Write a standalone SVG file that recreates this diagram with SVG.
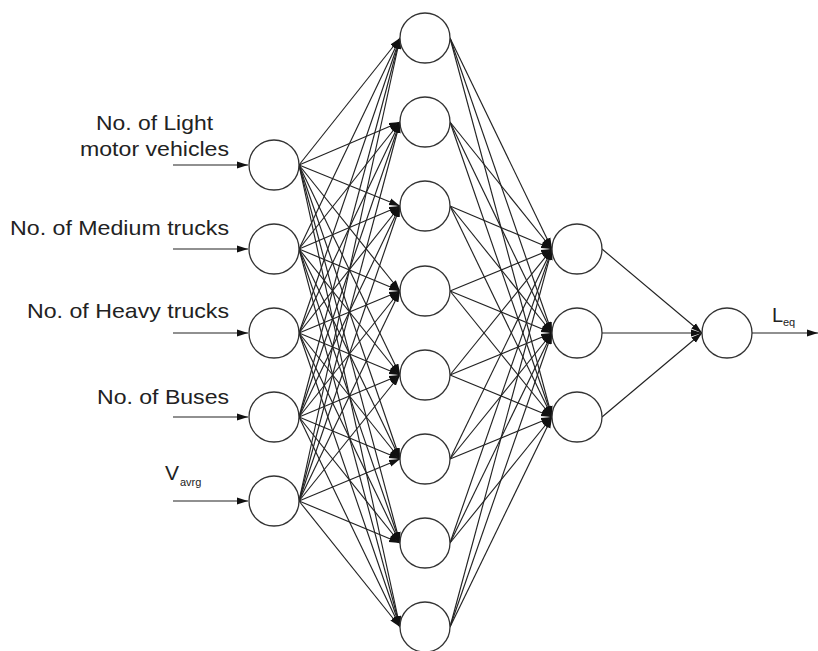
<svg xmlns="http://www.w3.org/2000/svg" width="818" height="651" viewBox="0 0 818 651">
<style>
.n{fill:#fff;stroke:#333;stroke-width:1.3}
.c line{stroke:#222;stroke-width:1.15;marker-end:url(#ah)}
.t{font-family:"Liberation Sans",Arial,sans-serif;fill:#222}
.lbl{font-size:21px;text-anchor:end}
</style>
<defs>
<marker id="ah" markerUnits="userSpaceOnUse" markerWidth="11" markerHeight="8" refX="11" refY="4" orient="auto"><path d="M0,0.5 L11,4 L0,7.5 z" fill="#111"/></marker>
</defs>
<g id="connectors" class="c">
<line x1="173" y1="165" x2="248" y2="165"/>
<line x1="173" y1="249" x2="248" y2="249"/>
<line x1="173" y1="333" x2="248" y2="333"/>
<line x1="173" y1="417" x2="248" y2="417"/>
<line x1="173" y1="501" x2="248" y2="501"/>
<line x1="299" y1="165" x2="400" y2="38"/><line x1="299" y1="165" x2="400" y2="122"/><line x1="299" y1="165" x2="400" y2="206"/><line x1="299" y1="165" x2="400" y2="291"/><line x1="299" y1="165" x2="400" y2="375"/><line x1="299" y1="165" x2="400" y2="459"/><line x1="299" y1="165" x2="400" y2="543"/><line x1="299" y1="165" x2="400" y2="627"/>
<line x1="299" y1="249" x2="400" y2="38"/><line x1="299" y1="249" x2="400" y2="122"/><line x1="299" y1="249" x2="400" y2="206"/><line x1="299" y1="249" x2="400" y2="291"/><line x1="299" y1="249" x2="400" y2="375"/><line x1="299" y1="249" x2="400" y2="459"/><line x1="299" y1="249" x2="400" y2="543"/><line x1="299" y1="249" x2="400" y2="627"/>
<line x1="299" y1="333" x2="400" y2="38"/><line x1="299" y1="333" x2="400" y2="122"/><line x1="299" y1="333" x2="400" y2="206"/><line x1="299" y1="333" x2="400" y2="291"/><line x1="299" y1="333" x2="400" y2="375"/><line x1="299" y1="333" x2="400" y2="459"/><line x1="299" y1="333" x2="400" y2="543"/><line x1="299" y1="333" x2="400" y2="627"/>
<line x1="299" y1="417" x2="400" y2="38"/><line x1="299" y1="417" x2="400" y2="122"/><line x1="299" y1="417" x2="400" y2="206"/><line x1="299" y1="417" x2="400" y2="291"/><line x1="299" y1="417" x2="400" y2="375"/><line x1="299" y1="417" x2="400" y2="459"/><line x1="299" y1="417" x2="400" y2="543"/><line x1="299" y1="417" x2="400" y2="627"/>
<line x1="299" y1="501" x2="400" y2="38"/><line x1="299" y1="501" x2="400" y2="122"/><line x1="299" y1="501" x2="400" y2="206"/><line x1="299" y1="501" x2="400" y2="291"/><line x1="299" y1="501" x2="400" y2="375"/><line x1="299" y1="501" x2="400" y2="459"/><line x1="299" y1="501" x2="400" y2="543"/><line x1="299" y1="501" x2="400" y2="627"/>
<line x1="450" y1="38" x2="552" y2="249"/><line x1="450" y1="38" x2="552" y2="333"/><line x1="450" y1="38" x2="552" y2="417"/>
<line x1="450" y1="122" x2="552" y2="249"/><line x1="450" y1="122" x2="552" y2="333"/><line x1="450" y1="122" x2="552" y2="417"/>
<line x1="450" y1="206" x2="552" y2="249"/><line x1="450" y1="206" x2="552" y2="333"/><line x1="450" y1="206" x2="552" y2="417"/>
<line x1="450" y1="291" x2="552" y2="249"/><line x1="450" y1="291" x2="552" y2="333"/><line x1="450" y1="291" x2="552" y2="417"/>
<line x1="450" y1="375" x2="552" y2="249"/><line x1="450" y1="375" x2="552" y2="333"/><line x1="450" y1="375" x2="552" y2="417"/>
<line x1="450" y1="459" x2="552" y2="249"/><line x1="450" y1="459" x2="552" y2="333"/><line x1="450" y1="459" x2="552" y2="417"/>
<line x1="450" y1="543" x2="552" y2="249"/><line x1="450" y1="543" x2="552" y2="333"/><line x1="450" y1="543" x2="552" y2="417"/>
<line x1="450" y1="627" x2="552" y2="249"/><line x1="450" y1="627" x2="552" y2="333"/><line x1="450" y1="627" x2="552" y2="417"/>
<line x1="602" y1="249" x2="702" y2="333"/>
<line x1="602" y1="333" x2="702" y2="333"/>
<line x1="602" y1="417" x2="702" y2="333"/>
<line x1="752" y1="333" x2="818" y2="333"/>
</g>
<g id="in1"><circle class="n" cx="274" cy="165" r="25"/><text class="t lbl" x="213" y="130" textLength="117" lengthAdjust="spacingAndGlyphs">No. of Light</text><text class="t lbl" x="229" y="156" textLength="149" lengthAdjust="spacingAndGlyphs">motor vehicles</text></g>
<g id="in2"><circle class="n" cx="274" cy="249" r="25"/><text class="t lbl" x="229" y="235" textLength="219" lengthAdjust="spacingAndGlyphs">No. of Medium trucks</text></g>
<g id="in3"><circle class="n" cx="274" cy="333" r="25"/><text class="t lbl" x="229" y="318" textLength="202" lengthAdjust="spacingAndGlyphs">No. of Heavy trucks</text></g>
<g id="in4"><circle class="n" cx="274" cy="417" r="25"/><text class="t lbl" x="229" y="404" textLength="132" lengthAdjust="spacingAndGlyphs">No. of Buses</text></g>
<g id="in5"><circle class="n" cx="274" cy="501" r="25"/><text class="t" x="165" y="480" font-size="21">V</text><text class="t" x="180" y="486" font-size="11">avrg</text></g>
<g id="h1"><circle class="n" cx="425" cy="38" r="25"/></g>
<g id="h2"><circle class="n" cx="425" cy="122" r="25"/></g>
<g id="h3"><circle class="n" cx="425" cy="206" r="25"/></g>
<g id="h4"><circle class="n" cx="425" cy="291" r="25"/></g>
<g id="h5"><circle class="n" cx="425" cy="375" r="25"/></g>
<g id="h6"><circle class="n" cx="425" cy="459" r="25"/></g>
<g id="h7"><circle class="n" cx="425" cy="543" r="25"/></g>
<g id="h8"><circle class="n" cx="425" cy="627" r="25"/></g>
<g id="k1"><circle class="n" cx="577" cy="249" r="25"/></g>
<g id="k2"><circle class="n" cx="577" cy="333" r="25"/></g>
<g id="k3"><circle class="n" cx="577" cy="417" r="25"/></g>
<g id="out"><circle class="n" cx="727" cy="333" r="25"/><text class="t" x="772" y="322" font-size="20">L</text><text class="t" x="783" y="326" font-size="11">eq</text></g>
</svg>
